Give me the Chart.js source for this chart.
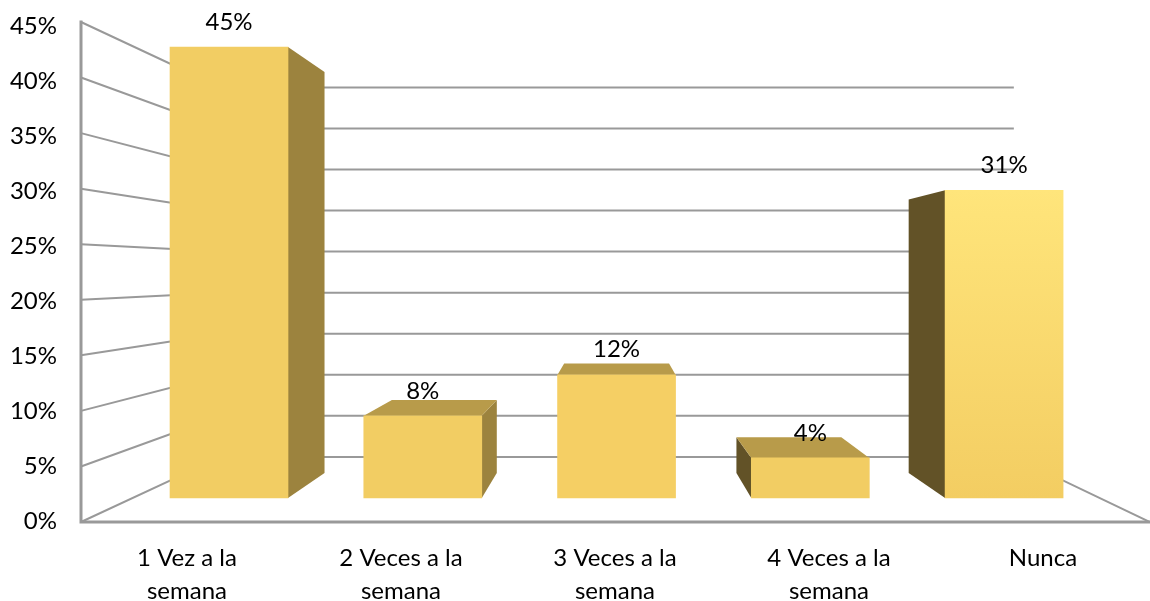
<!DOCTYPE html>
<html><head><meta charset="utf-8">
<style>html,body{margin:0;padding:0;background:#fff}canvas{display:block}</style>
<script src="https://cdn.jsdelivr.net/npm/chart.js@4/dist/chart.umd.min.js"></script>
</head><body><canvas id="c" width="1150" height="601"></canvas>
<script>
const categories = [["1 Vez a la","semana"],["2 Veces a la","semana"],["3 Veces a la","semana"],["4 Veces a la","semana"],["Nunca"]];
const positions = [0,1,2,3,4];
const values = [45,8.2,12.3,4,30.7];
const tickValues = [0,5,10,15,20,25,30,35,40,45];
const FONT = '24px Lato';
const GREY = '#999999';
const VP = {x:617, y:272.5};   // vanishing point
const DEPTH_BAR = 0.889, DEPTH_WALL = 0.739;
const proj = (x,y,s)=>[VP.x+(x-VP.x)*s, VP.y+(y-VP.y)*s];

function poly(ctx,pts,fill){
  ctx.beginPath();pts.forEach((p,i)=>i?ctx.lineTo(p[0],p[1]):ctx.moveTo(p[0],p[1]));
  ctx.closePath();ctx.fillStyle=fill;ctx.fill();
}
const scene = {
  id:'scene',
  beforeDatasetsDraw(chart){
    const ctx=chart.ctx, a=chart.chartArea, w=chart.scales.yWall;
    ctx.save();ctx.strokeStyle=GREY;ctx.lineWidth=2;
    const L=a.left+1,R=a.right;
    tickValues.forEach(v=>{
      const y=w.getPixelForValue(v);
      const p=proj(L,y,DEPTH_WALL), q=proj(R+4,y,DEPTH_WALL);
      ctx.beginPath();ctx.moveTo(L,y);ctx.lineTo(p[0],p[1]);ctx.lineTo(q[0],q[1]);
      if(v===0)ctx.lineTo(R,y);
      ctx.stroke();
    });
    ctx.lineWidth=3;ctx.lineCap='square';
    ctx.beginPath();
    ctx.moveTo(L,a.top);ctx.lineTo(L,a.bottom);ctx.lineTo(R,a.bottom);
    ctx.stroke();
    chart.getDatasetMeta(0).data.forEach(b=>{
      const l=b.x-b.width/2,r=b.x+b.width/2,t=b.y,u=b.base;
      if(r<VP.x) poly(ctx,[[r,t],proj(r,t,DEPTH_BAR),proj(r,u,DEPTH_BAR),[r,u]],'#9c833e');
      if(l>VP.x) poly(ctx,[[l,t],proj(l,t,DEPTH_BAR),proj(l,u,DEPTH_BAR),[l,u]],'#625227');
      if(t>VP.y) poly(ctx,[[l,t],[r,t],proj(r,t,DEPTH_BAR),proj(l,t,DEPTH_BAR)],'#b89b4a');
    });
    ctx.restore();
  },
  afterDatasetsDraw(chart){
    const ctx=chart.ctx;
    ctx.save();ctx.font=FONT;ctx.fillStyle='#000';ctx.textAlign='center';ctx.textBaseline='middle';
    chart.getDatasetMeta(0).data.forEach((b,i)=>ctx.fillText(Math.round(values[i])+'%',b.x,b.y-25));
    ctx.restore();
  }
};
function front(c){
  const i=c.dataIndex, a=c.chart.chartArea;
  if(!a) return '#f2cd63';
  if(i!==4) return i===2?'#f5cf64':'#f2cd63';
  const g=c.chart.ctx.createLinearGradient(0,190,0,498);
  g.addColorStop(0,'#ffe57b');g.addColorStop(1,'#f3cd62');
  return g;
}
new Chart(document.getElementById('c'),{
  type:'bar',
  data:{labels:categories,datasets:[{
    data:positions.map((p,i)=>({x:p,y:values[i]})),
    xAxisID:'xb',yAxisID:'yb',backgroundColor:front,borderWidth:0,barThickness:118
  }]},
  plugins:[scene],
  options:{
    responsive:false,animation:false,events:[],
    layout:{padding:{top:22,left:0,right:0,bottom:0}},
    plugins:{legend:{display:false},tooltip:{enabled:false}},
    scales:{
      x:{type:'category',position:'bottom',
        grid:{display:false,drawTicks:false},
        border:{display:false},
        ticks:{font:{family:'Lato',size:24,lineHeight:1.36},color:'#000',padding:20,maxRotation:0,minRotation:0,autoSkip:false},
        afterFit(s){s.height=79;s.paddingLeft=0;s.paddingRight=0;}},
      y:{type:'linear',position:'left',min:-0.09,max:45.36,
        grid:{display:false,drawTicks:false},
        border:{display:false},
        afterBuildTicks(s){s.ticks=tickValues.map(v=>({value:v}));},
        ticks:{font:{family:'Lato',size:24},color:'#000',padding:23,callback:v=>v+'%'},
        afterFit(s){s.width=80;s.paddingTop=0;s.paddingBottom=0;}},
      yWall:{type:'linear',display:false,min:0,max:45},
      yb:{type:'linear',display:false,min:-2.395,max:47.5},
      xb:{type:'linear',display:false,offset:false,min:-0.769,max:4.753,grid:{offset:false}}
    }
  }
});
</script></body></html>
